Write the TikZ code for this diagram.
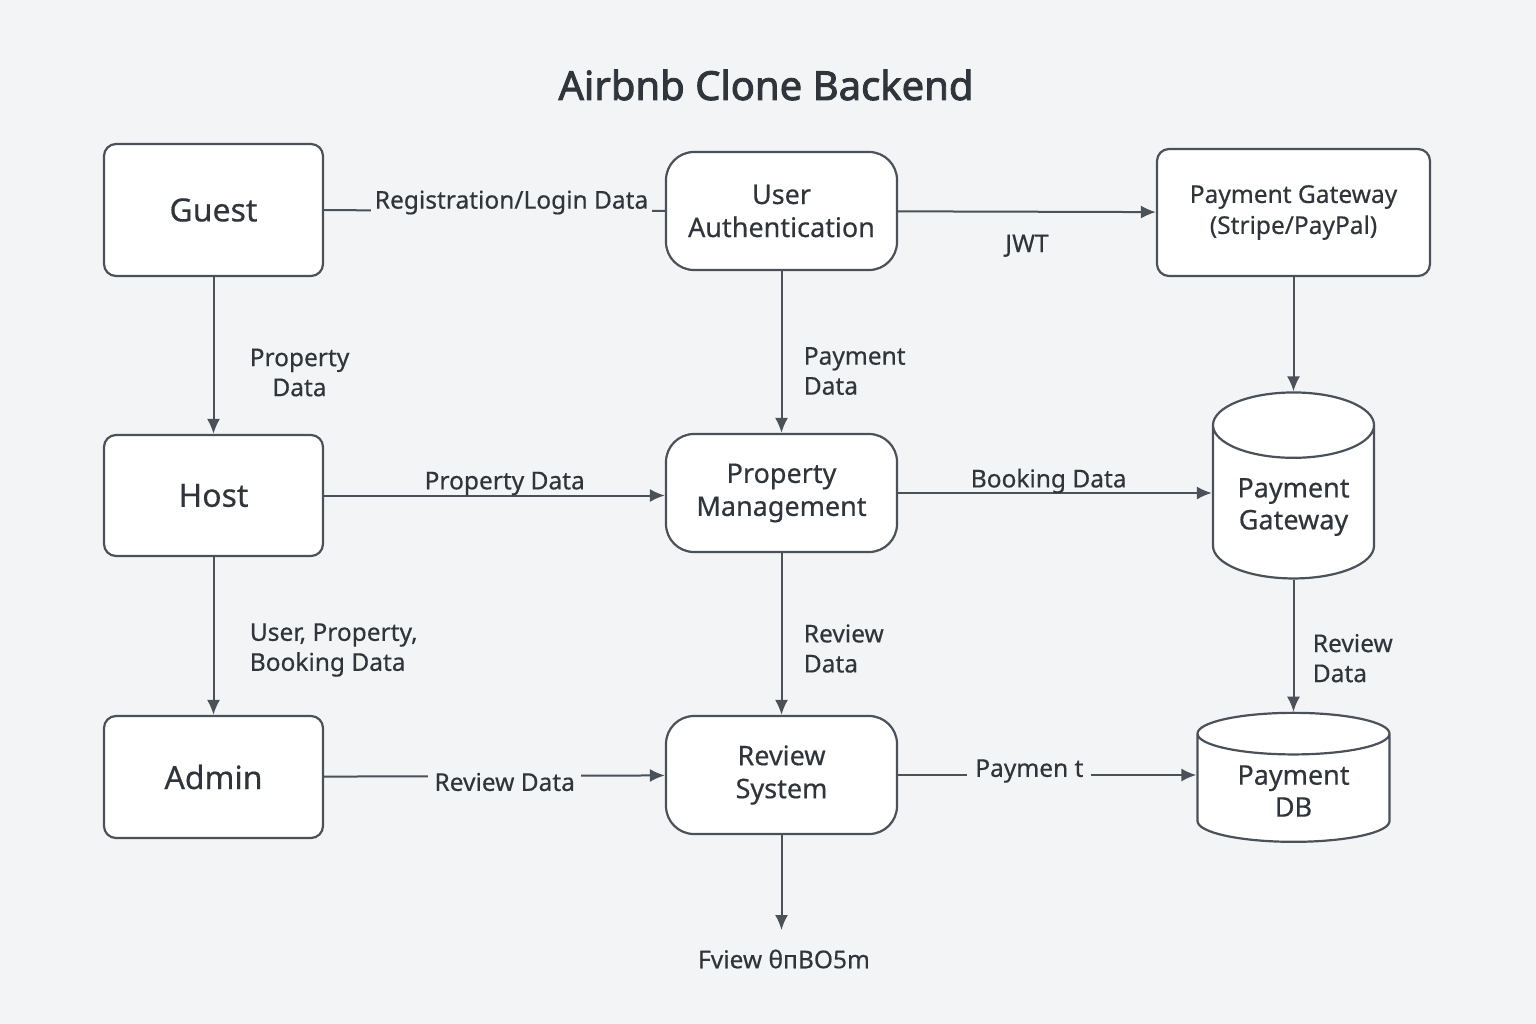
\documentclass[tikz,border=0pt]{standalone}
\usepackage{fontspec}
\setmainfont{Noto Sans}[FakeBold=0.4]
\newfontfamily\titlefont{Noto Sans}[FakeBold=2.2]
\usetikzlibrary{arrows.meta,shapes.geometric}
\definecolor{ink}{HTML}{4B5159}
\definecolor{txt}{HTML}{2F353B}
\definecolor{bgc}{HTML}{F3F4F5}

\begin{document}
\begin{tikzpicture}[x=1pt,y=-1pt,
  actor/.style={draw=ink,line width=2.2pt,rounded corners=12pt,fill=white,minimum width=219pt,text=txt,font=\fontsize{32}{38}\selectfont},
  process/.style={draw=ink,line width=2.2pt,rounded corners=28pt,fill=white,minimum width=231pt,minimum height=118pt,align=center,text=txt,font=\fontsize{27}{33}\selectfont},
  store/.style={cylinder,shape border rotate=90,draw=ink,line width=2.2pt,fill=white,align=center,text=txt,font=\fontsize{27}{32}\selectfont},
  flow/.style={draw=ink,line width=2pt,-{Latex[length=15pt,width=13pt]}},
  lbl/.style={text=txt,font=\fontsize{24.5}{30}\selectfont,align=left},
]
\path[use as bounding box,fill=bgc] (0,0) rectangle (1536,1024);

\node[text=txt,font=\titlefont\fontsize{40}{46}\selectfont] (title) at (766,85) {Airbnb Clone Backend};

% left column
\node[actor,minimum height=132pt] (guest) at (213.5,210) {Guest};
\node[actor,minimum height=121pt] (host) at (213.5,495.5) {Host};
\node[actor,minimum height=122pt] (admin) at (213.5,777) {Admin};

% middle column
\node[process] (auth) at (781.5,211) {User\\Authentication};
\node[process] (propmgmt) at (781.5,493) {Property\\Management};
\node[process] (review) at (781.5,775) {Review\\System};

% right column
\node[actor,minimum width=273pt,minimum height=127pt,align=center,font=\fontsize{24.5}{31}\selectfont] (gateway) at (1293.5,212.5) {Payment Gateway\\(Stripe/PayPal)};
\node[store,minimum width=161pt,minimum height=186pt,aspect=0.55] (paystore) at (1293.5,507) {Payment\\Gateway};
\node[store,minimum width=192pt,minimum height=129pt,aspect=0.35] (paydb) at (1293.5,791) {Payment\\DB};

\coordinate (reviewend) at (781.5,930);
\node[lbl] (reviewout) at (784,959) {Fview θпBO5m};

% flows
\draw[draw=ink,line width=2pt] (guest) -- (auth) node[lbl,fill=bgc,pos=0.55,yshift=8pt,inner xsep=4pt] {Registration/Login Data};
\draw[flow] (auth) -- (gateway) node[lbl,midway,yshift=-34pt] {JWT};
\draw[flow] (guest) -- (host) node[lbl,align=center,midway,xshift=86pt,yshift=-17pt] {Property\\Data};
\draw[flow] (auth) -- (propmgmt) node[lbl,midway,right=18pt,yshift=-19pt] {Payment\\Data};
\draw[flow] (gateway) -- (paystore);
\draw[flow] (host.east) -- (host.east -| propmgmt.west) node[lbl,pos=0.53,yshift=12pt] {Property Data};
\draw[flow] (propmgmt.east) -- (propmgmt.east -| paystore.west) node[lbl,pos=0.48,yshift=12pt] {Booking Data};
\draw[flow] (host) -- (admin) node[lbl,midway,right=32pt,yshift=-14pt] {User, Property,\\Booking Data};
\draw[flow] (propmgmt) -- (review) node[lbl,midway,right=18pt,yshift=-14.5pt] {Review\\Data};
\draw[flow] (paystore) -- (paydb) node[lbl,midway,right=15pt,yshift=-12.5pt] {Review\\Data};
\draw[flow] (admin) -- (review) node[lbl,fill=bgc,pos=0.53,yshift=-6pt,inner xsep=6pt] {Review Data};
\draw[flow] (review) -- (review -| paydb.west) node[lbl,fill=bgc,pos=0.44,yshift=4pt,inner xsep=8pt] {Paymen t};
\draw[flow] (review) -- (reviewend);
\end{tikzpicture}
\end{document}
